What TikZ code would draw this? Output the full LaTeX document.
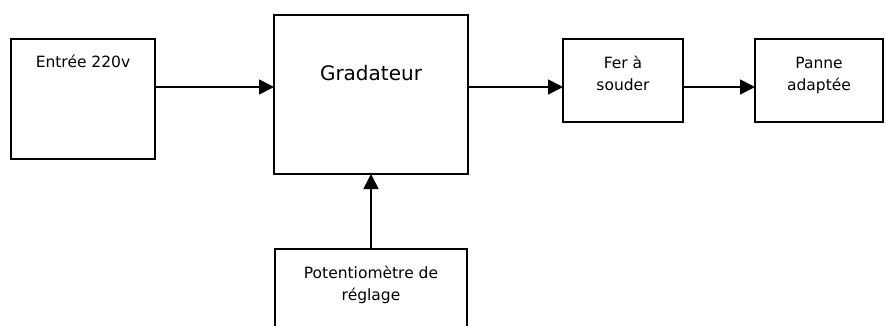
\documentclass[tikz,border=0pt]{standalone}
\usepackage{fontspec}
\setmainfont{DejaVu Sans}
\usetikzlibrary{arrows.meta}

\tikzset{
  block/.style={draw=black, line width=1.7pt, rectangle, inner sep=0pt, outer sep=0pt, anchor=north west},
  lbl/.style={anchor=base, inner sep=0pt, font=\fontsize{15.5pt}{18pt}\selectfont},
  biglbl/.style={anchor=base, inner sep=0pt, font=\fontsize{20pt}{24pt}\selectfont},
  flow/.style={draw=black, line width=1.7pt, -{Triangle[length=15pt, width=15pt]}},
}

\begin{document}
\begin{tikzpicture}[x=1pt, y=-1pt]
  \useasboundingbox (0,0) rectangle (886,325);
  \clip (0,0) rectangle (886,325);

  % blocks
  \node[block, minimum width=144pt, minimum height=120pt] (entree) at (11,39) {};
  \node[block, minimum width=194pt, minimum height=159pt] (grad) at (274,15) {};
  \node[block, minimum width=120pt, minimum height=83pt] (fer) at (563,39) {};
  \node[block, minimum width=128pt, minimum height=83pt] (panne) at (755,39) {};
  \node[block, minimum width=192pt, minimum height=100pt] (pot) at (275,249) {};

  % labels
  \node[lbl] (tEntree) at (83,67) {Entrée 220v};
  \node[biglbl] (tGrad) at (371,80) {Gradateur};
  \node[lbl] (tFer1) at (623,68) {Fer à};
  \node[lbl] (tFer2) at (623,90) {souder};
  \node[lbl] (tPanne1) at (819,68) {Panne};
  \node[lbl] (tPanne2) at (819,90) {adaptée};
  \node[lbl] (tPot1) at (371,278) {Potentiomètre de};
  \node[lbl] (tPot2) at (371,300) {réglage};

  % signal level of the horizontal chain
  \coordinate (lvl) at (0,87);

  % connectors
  \draw[flow] (entree.east |- lvl) -- (grad.west |- lvl);
  \draw[flow] (grad.east |- lvl) -- (fer.west |- lvl);
  \draw[flow] (fer.east |- lvl) -- (panne.west |- lvl);
  \draw[flow] (pot.north) -- (grad.south);
\end{tikzpicture}
\end{document}
